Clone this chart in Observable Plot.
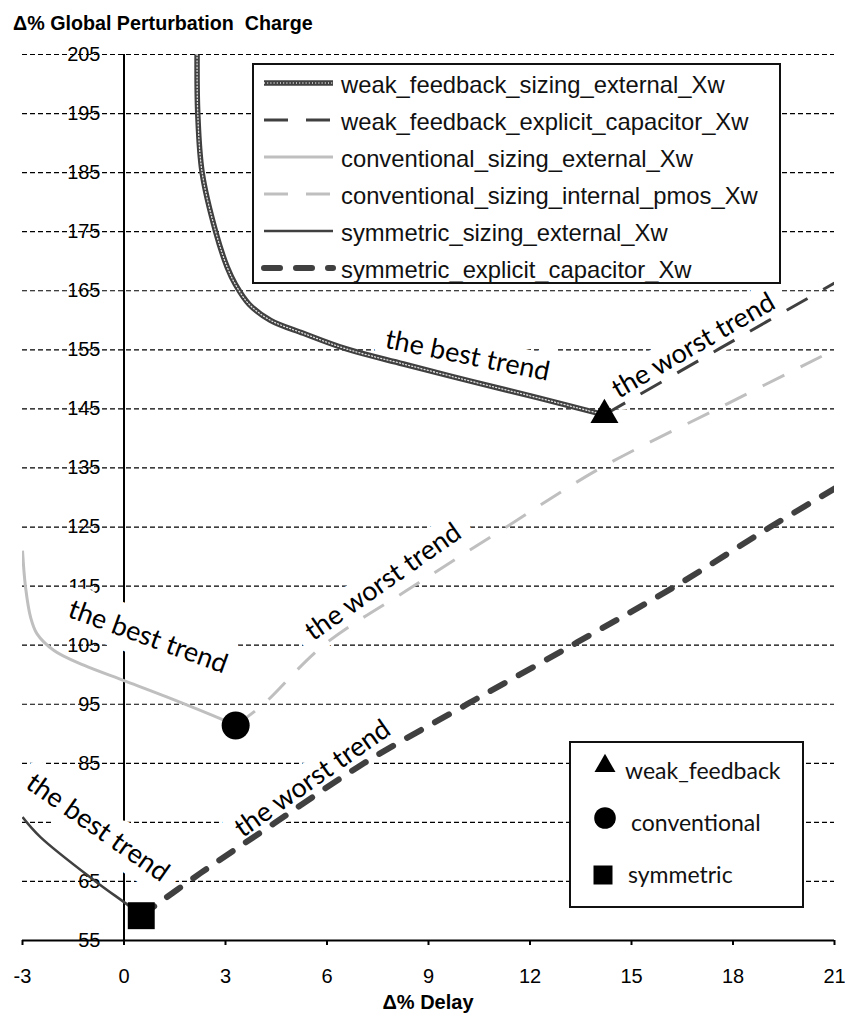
<!DOCTYPE html>
<html><head><meta charset="utf-8">
<script src="https://cdn.jsdelivr.net/npm/d3@7"></script>
<script src="https://cdn.jsdelivr.net/npm/@observablehq/plot@0.6"></script>
<style>
body{margin:0;background:#fff;}
#wrap{position:relative;width:845px;height:1018px;}
#overlay{position:absolute;left:0;top:0;pointer-events:none;}
</style></head><body><div id="wrap"><div id="chart"></div></div>
<script>
// ---- data ----
const xTicks = [-3,0,3,6,9,12,15,18,21];
const yTicks = [55,65,75,85,95,105,115,125,135,145,155,165,175,185,195,205];

const seriesNames = ["weak_feedback_sizing_external_Xw","weak_feedback_explicit_capacitor_Xw","conventional_sizing_external_Xw","conventional_sizing_internal_pmos_Xw","symmetric_sizing_external_Xw","symmetric_explicit_capacitor_Xw"];

const wfExtX = [2.16,2.18,2.31,2.71,3.05,3.3,3.7,4.33,5.3,6.6,8.26,10.24,12.22,14.2];
const wfExtY = [205,195,185,175,169,166,162.7,160,157.8,155.1,152.6,149.7,146.9,144];
const wfCapX = [14.2,17.6,21];
const wfCapY = [144,155.2,166.3];
const convExtX = [-3,-2.91,-2.76,-2.57,-2.07,-1.19,0,1.28,2.95,3.3];
const convExtY = [121,114.8,109.7,106.9,104.1,101.6,99,96.2,92.3,91.4];
const convIntX = [3.3,4.12,5.9,8.56,11.3,14.09,17.53,21];
const convIntY = [91.4,95,105,115,125,135,145,155];
const symExtX = [-3,-2.47,-0.84,0.14,0.51];
const symExtY = [75.9,72.5,65,60.9,59.2];
const symCapX = [0.51,2.26,4.43,7.09,10.14,13.4,16.3,19.1,21];
const symCapY = [59.2,66.4,74.8,85,95,105.5,115,125,131.5];

const markerNames = ["weak_feedback","conventional","symmetric"];
const markerX = [14.2,3.3,0.51];
const markerY = [144,91.4,59.2];

const annoText = ["the best trend","the worst trend","the worst trend","the best trend","the worst trend","the best trend"];
const annoX = [10.15,16.83,7.66,0.71,5.57,-0.78];
const annoY = [154.0,155.7,115.7,106.4,82.4,74.1];
const annoAngle = [11.5,-30,-35,20,-35,35];

const titleText = "Δ% Global Perturbation  Charge";
const xLabelText = "Δ% Delay";

// ---- styles ----
const DARK = "#404040", LIGHT = "#bfbfbf";
const styles = [
  {stroke:DARK, w:5.5, dash:null, cap:"butt", dots:true},
  {stroke:DARK, w:3, dash:"24,18", cap:"butt"},
  {stroke:LIGHT, w:3, dash:null, cap:"butt"},
  {stroke:LIGHT, w:3, dash:"24,18", cap:"butt"},
  {stroke:DARK, w:2.5, dash:null, cap:"butt"},
  {stroke:DARK, w:6, dash:"16,16", cap:"round"}
];
const seriesX = [wfExtX, wfCapX, convExtX, convIntX, symExtX, symCapX];
const seriesY = [wfExtY, wfCapY, convExtY, convIntY, symExtY, symCapY];
const symbols = ["triangle","circle","square"];
const symbolR = [10.4,14,15.2];

const ARIAL = "'Liberation Sans', Arial, sans-serif";
const CAL = "Lato, 'Open Sans', sans-serif";

const marks = [
  Plot.gridY(yTicks, {stroke:"black", strokeOpacity:1, strokeDasharray:"5,3", strokeWidth:1.2}),
  Plot.ruleX([0], {y1:55, y2:205, stroke:"black", strokeWidth:2}),
  Plot.ruleY([55], {stroke:"black", strokeWidth:2}),
  Plot.axisY(yTicks, {anchor:"left", tickSize:0, tickPadding:0, dx:78, fontSize:20, label:null, tickFormat:d=>String(d)}),
  Plot.axisX(xTicks, {anchor:"bottom", tickSize:5, tickPadding:23, strokeWidth:2, fontSize:20, label:null, tickFormat:d=>String(d)}),
  Plot.text(d3.range(annoText.length), {x:i=>annoX[i], y:i=>annoY[i], text:i=>annoText[i], rotate:i=>annoAngle[i],
    fontFamily:CAL, fontSize:27, fill:"black", stroke:"white", strokeWidth:26, strokeLinejoin:"round"})
];
seriesX.forEach((xs,k)=>{
  const s = styles[k];
  const idx = d3.range(xs.length);
  marks.push(Plot.line(idx, {x:i=>xs[i], y:i=>seriesY[k][i], stroke:s.stroke, strokeWidth:s.w, strokeDasharray:s.dash, strokeLinecap:s.cap, curve:"catmull-rom", clip:true}));
  if (s.dots) marks.push(Plot.line(idx, {x:i=>xs[i], y:i=>seriesY[k][i], stroke:"#e0e0e0", strokeWidth:1.3, strokeDasharray:"1,2.2", curve:"catmull-rom", clip:true}));
});
markerX.forEach((mx,k)=>{
  marks.push(Plot.dot([k], {x:()=>mx, y:()=>markerY[k], symbol:symbols[k], r:symbolR[k], fill:"black", stroke:null}));
});

const chart = Plot.plot({
  width:845, height:1018, marginLeft:22, marginRight:11, marginTop:54, marginBottom:78,
  x:{domain:[-3,21]}, y:{domain:[55,205]},
  style:{fontFamily:ARIAL, fontSize:"20px", color:"black", background:"white"},
  marks
});
document.getElementById("chart").appendChild(chart);

// ---- overlay: title, x label, legends ----
const ov = d3.select("#wrap").append("svg").attr("id","overlay").attr("width",845).attr("height",1018);
ov.append("text").attr("x",13).attr("y",30).attr("font-family",ARIAL).attr("font-weight","bold").attr("font-size",19.7).attr("xml:space","preserve").style("white-space","pre").text(titleText);
ov.append("text").attr("x",428).attr("y",1009).attr("text-anchor","middle").attr("font-family",ARIAL).attr("font-weight","bold").attr("font-size",20).text(xLabelText);

// legend 1
ov.append("rect").attr("x",253).attr("y",64).attr("width",527).attr("height",219).attr("fill","white").attr("stroke","#111").attr("stroke-width",2);
seriesNames.forEach((name,i)=>{
  const yy = 83 + 37*i, s = styles[i];
  const ln = ov.append("line").attr("x1",264).attr("x2",333).attr("y1",yy).attr("y2",yy)
    .attr("stroke",s.stroke).attr("stroke-width",s.w).attr("stroke-linecap",s.cap);
  if (s.dash) ln.attr("stroke-dasharray", s.dash);
  if (s.dots) ov.append("line").attr("x1",264).attr("x2",333).attr("y1",yy).attr("y2",yy).attr("stroke","#e0e0e0").attr("stroke-width",1.3).attr("stroke-dasharray","1,2.2");
  ov.append("text").attr("x",341).attr("y",yy+10).attr("font-family",ARIAL).attr("font-size",23.8).attr("fill","#111").text(name);
});

// legend 2
ov.append("rect").attr("x",570).attr("y",742).attr("width",233).attr("height",165).attr("fill","white").attr("stroke","#111").attr("stroke-width",2);
const m2 = [
  {sym:d3.symbolTriangle, size:191, cx:605, cy:766, tx:625, ty:779},
  {sym:d3.symbolCircle, size:366, cx:605, cy:818, tx:631, ty:831},
  {sym:d3.symbolSquare, size:361, cx:603, cy:875, tx:628, ty:883}
];
m2.forEach((m,i)=>{
  ov.append("path").attr("d", d3.symbol(m.sym, m.size)()).attr("transform",`translate(${m.cx},${m.cy})`).attr("fill","black");
  ov.append("text").attr("x",m.tx).attr("y",m.ty).attr("font-family",CAL).attr("font-size",23).attr("fill","#111").text(markerNames[i]);
});
</script></body></html>
